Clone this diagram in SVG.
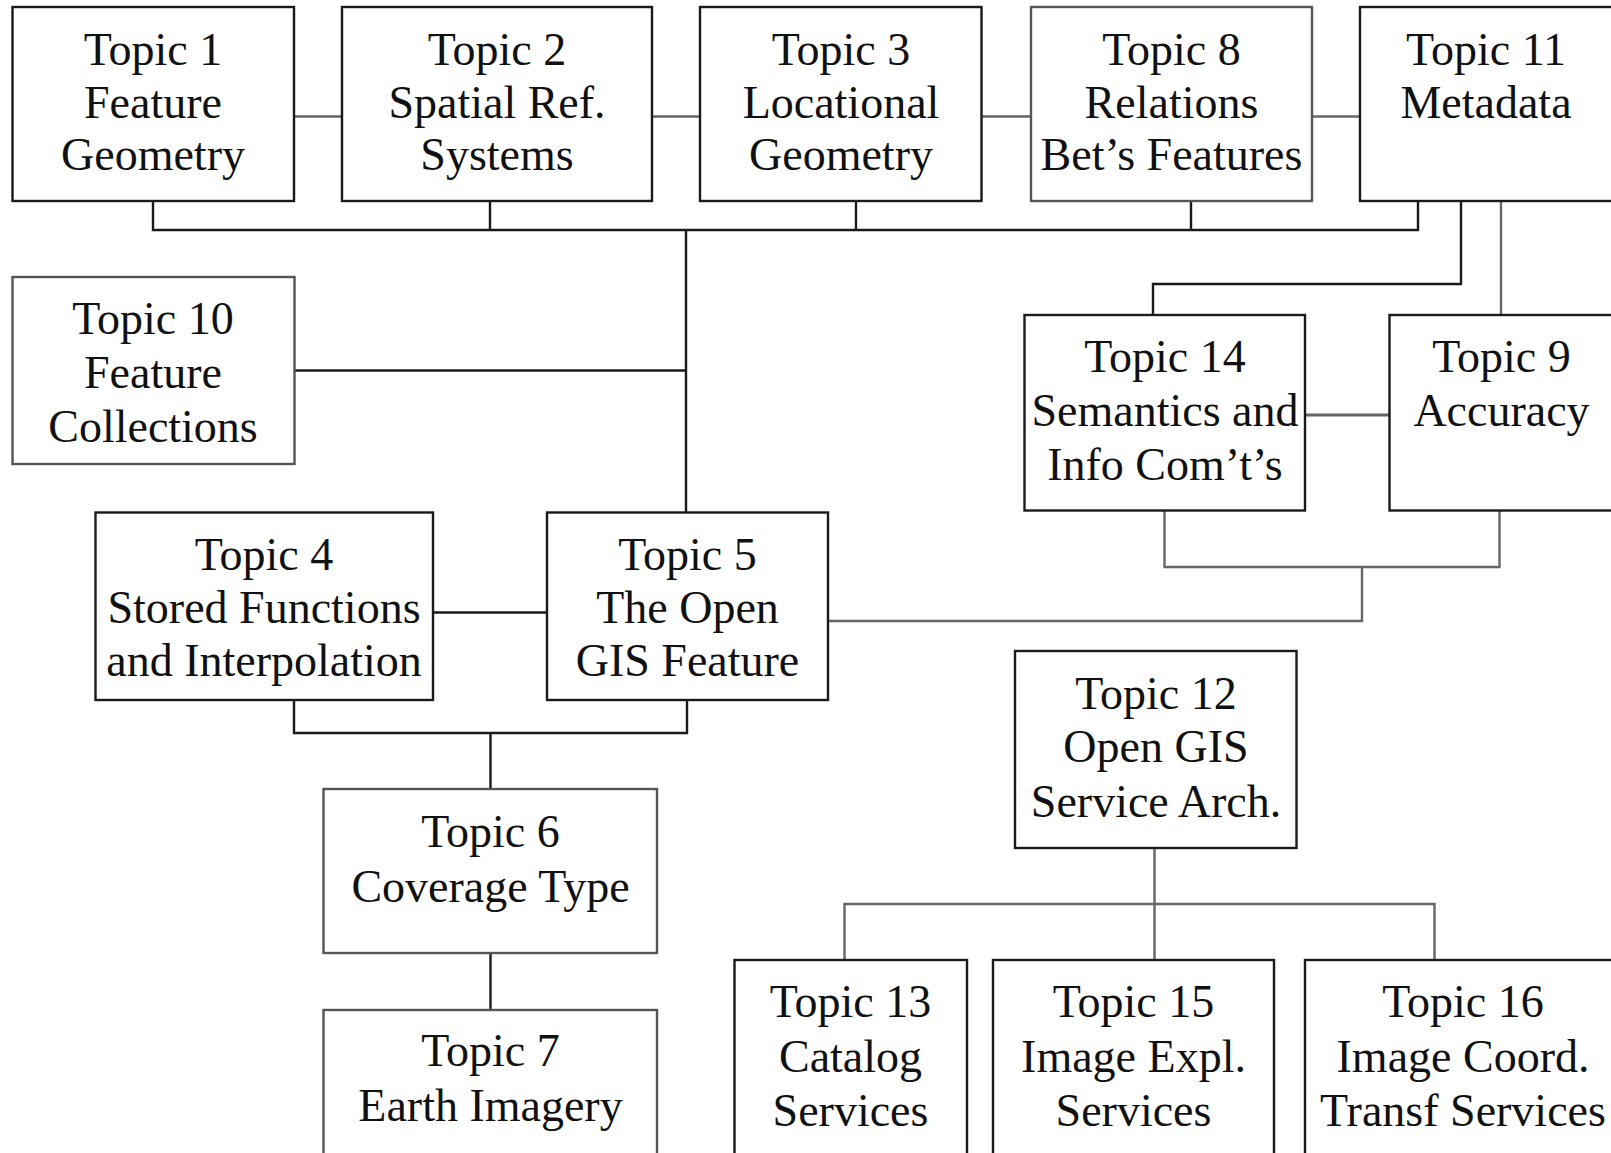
<svg xmlns="http://www.w3.org/2000/svg" width="1611" height="1153" viewBox="0 0 1611 1153">
<style>
.box{fill:#fff;stroke:#1a1a1a;stroke-width:2.4}
.box.g{stroke:#555}
.t{font-family:"Liberation Serif","Times New Roman",serif;font-size:46px;fill:#111;text-anchor:middle}
.c{fill:none;stroke:#1a1a1a;stroke-width:2.4}
.c.g{stroke:#666}
</style>
<rect width="1611" height="1153" fill="#fff"/>
<g id="connectors">
<path class="c g" d="M294,116.5H342"/>
<path class="c g" d="M652,116.5H700"/>
<path class="c g" d="M981.5,116.5H1031"/>
<path class="c g" d="M1312,116.5H1360"/>
<path class="c" d="M153,201V230H1418V201M490,201V230M856,201V230M1191,201V230"/>
<path class="c" d="M686,230V512.5"/>
<path class="c" d="M294.5,370.5H686"/>
<path class="c" d="M1461,201V284H1153V315"/>
<path class="c g" d="M1501,201V315"/>
<path class="c g" d="M1305,415H1389.5" style="stroke-width:3.2"/>
<path class="c g" d="M1164.5,510.5V567H1499.5V510.5M1362,567V621H828"/>
<path class="c" d="M433,612.5H547"/>
<path class="c" d="M294,700V733H687V700M490.5,733V789"/>
<path class="c" d="M490.5,953V1010"/>
<path class="c g" d="M1154.5,848V960M844.5,960V904H1434.5V960"/>
</g>
<g id="topic1"><rect class="box" x="12.5" y="7" width="281.5" height="194"/>
<text class="t" x="153" y="65">Topic 1</text><text class="t" x="153" y="117.5">Feature</text><text class="t" x="153" y="170">Geometry</text></g>
<g id="topic2"><rect class="box" x="342" y="7" width="310" height="194"/>
<text class="t" x="497" y="65">Topic 2</text><text class="t" x="497" y="117.5">Spatial Ref.</text><text class="t" x="497" y="170">Systems</text></g>
<g id="topic3"><rect class="box" x="700" y="7" width="281.5" height="194"/>
<text class="t" x="841" y="65">Topic 3</text><text class="t" x="841" y="117.5">Locational</text><text class="t" x="841" y="170">Geometry</text></g>
<g id="topic8"><rect class="box g" x="1031" y="7" width="281" height="194"/>
<text class="t" x="1171.5" y="65">Topic 8</text><text class="t" x="1171.5" y="117.5">Relations</text><text class="t" x="1171.5" y="170">Bet’s Features</text></g>
<g id="topic11"><rect class="box" x="1360" y="7" width="260" height="194"/>
<text class="t" x="1486" y="65">Topic 11</text><text class="t" x="1486" y="117.5">Metadata</text></g>
<g id="topic10"><rect class="box g" x="12.5" y="277" width="282" height="187"/>
<text class="t" x="153" y="334">Topic 10</text><text class="t" x="153" y="388">Feature</text><text class="t" x="153" y="442">Collections</text></g>
<g id="topic14"><rect class="box" x="1024.5" y="315" width="280.5" height="195.5"/>
<text class="t" x="1165" y="372">Topic 14</text><text class="t" x="1165" y="426">Semantics and</text><text class="t" x="1165" y="480">Info Com’t’s</text></g>
<g id="topic9"><rect class="box" x="1389.5" y="315" width="230" height="195.5"/>
<text class="t" x="1501.5" y="372">Topic 9</text><text class="t" x="1501.5" y="426">Accuracy</text></g>
<g id="topic4"><rect class="box" x="95.5" y="512.5" width="337.5" height="187.5"/>
<text class="t" x="264" y="570">Topic 4</text><text class="t" x="264" y="623">Stored Functions</text><text class="t" x="264" y="676">and Interpolation</text></g>
<g id="topic5"><rect class="box" x="547" y="512.5" width="281" height="187.5"/>
<text class="t" x="687.5" y="570">Topic 5</text><text class="t" x="687.5" y="623">The Open</text><text class="t" x="687.5" y="676">GIS Feature</text></g>
<g id="topic6"><rect class="box g" x="323.5" y="789" width="333.5" height="164"/>
<text class="t" x="490.5" y="847">Topic 6</text><text class="t" x="490.5" y="902">Coverage Type</text></g>
<g id="topic7"><rect class="box g" x="323.5" y="1010" width="333.5" height="160"/>
<text class="t" x="490.5" y="1066">Topic 7</text><text class="t" x="490.5" y="1121">Earth Imagery</text></g>
<g id="topic12"><rect class="box" x="1015" y="651" width="281.5" height="197"/>
<text class="t" x="1156" y="709">Topic 12</text><text class="t" x="1156" y="762">Open GIS</text><text class="t" x="1156" y="817">Service Arch.</text></g>
<g id="topic13"><rect class="box" x="734.5" y="960" width="232.5" height="210"/>
<text class="t" x="850.5" y="1017">Topic 13</text><text class="t" x="850.5" y="1071.5">Catalog</text><text class="t" x="850.5" y="1126">Services</text></g>
<g id="topic15"><rect class="box" x="993" y="960" width="281" height="210"/>
<text class="t" x="1133.5" y="1017">Topic 15</text><text class="t" x="1133.5" y="1071.5">Image Expl.</text><text class="t" x="1133.5" y="1126">Services</text></g>
<g id="topic16"><rect class="box" x="1305" y="960" width="320" height="210"/>
<text class="t" x="1463" y="1017">Topic 16</text><text class="t" x="1463" y="1071.5">Image Coord.</text><text class="t" x="1463" y="1126">Transf Services</text></g>
</svg>
